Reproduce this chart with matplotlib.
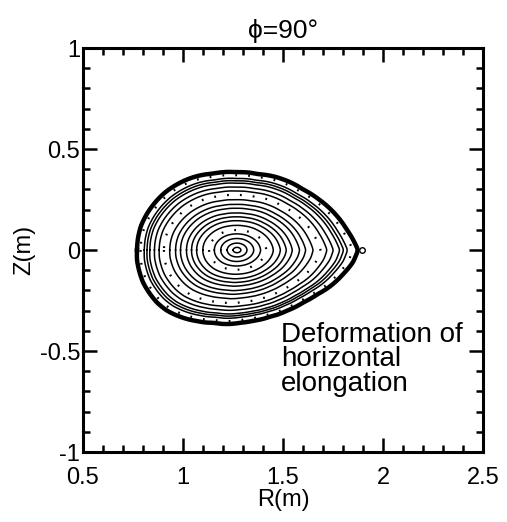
import numpy as np
import matplotlib.pyplot as plt
from matplotlib.ticker import MultipleLocator

plt.rcParams['font.family'] = ['Liberation Sans', 'DejaVu Sans']

# magnetic axis
r_axis = 1.27
z_axis = 0.0

# outermost (thick) surface
# upper half from the inboard side to the X-point, lower half back again
r_upper = [0.77, 0.775, 0.79, 0.82, 0.86, 0.91, 0.97, 1.05, 1.15, 1.27, 1.38, 1.50, 1.60, 1.68, 1.75, 1.82, 1.875]
z_upper = [0.00, 0.06, 0.12, 0.18, 0.235, 0.285, 0.325, 0.36, 0.378, 0.385, 0.375, 0.35, 0.30, 0.25, 0.19, 0.10, 0.00]
r_lower = [1.85, 1.80, 1.735, 1.67, 1.60, 1.52, 1.435, 1.35, 1.285, 1.15, 1.06, 0.985, 0.92, 0.87, 0.83, 0.80, 0.78, 0.77]
z_lower = [-0.06, -0.12, -0.18, -0.22, -0.26, -0.30, -0.33, -0.35, -0.36, -0.36, -0.35, -0.33, -0.30, -0.26, -0.21, -0.16, -0.10, -0.05]

# core ellipse half widths (m)
core_a = 0.55
core_b = 0.38

# normalized radii of the nested surfaces
solid_levels = [0.035, 0.09, 0.15, 0.21, 0.32, 0.38, 0.43, 0.48, 0.54, 0.59, 0.65,
                0.76, 0.81, 0.86, 0.89, 0.92]
dotted_levels = [0.26, 0.71, 0.96]

xticks = [0.5, 1, 1.5, 2, 2.5]
xticklabels = ['0.5', '1', '1.5', '2', '2.5']
yticks = [-1, -0.5, 0, 0.5, 1]
yticklabels = ['-1', '-0.5', '0', '0.5', '1']

rb = np.array(r_upper + r_lower)
zb = np.array(z_upper + z_lower)

# boundary radius as a function of poloidal angle around the axis
th_b = np.arctan2(zb - z_axis, rb - r_axis)
rad_b = np.hypot(rb - r_axis, zb - z_axis)
order = np.argsort(th_b)
theta = np.linspace(-np.pi, np.pi, 721)[:-1]
rad_edge = np.interp(theta, th_b[order], rad_b[order], period=2 * np.pi)
kern = np.ones(5) / 5
rad_edge = np.convolve(np.r_[rad_edge[-2:], rad_edge, rad_edge[:2]], kern, mode='valid')
rad_core = core_a * core_b / np.sqrt((core_b * np.cos(theta)) ** 2 + (core_a * np.sin(theta)) ** 2)


def surface(rho):
    rad = rho * ((1 - rho) * rad_core + rho * rad_edge)
    rr = r_axis + rad * np.cos(theta)
    zz = z_axis + rad * np.sin(theta)
    return np.r_[rr, rr[0]], np.r_[zz, zz[0]]


fig = plt.figure(figsize=(5.07, 5.22), dpi=100)
ax = fig.add_axes([0.1637, 0.134, 0.789, 0.774])

for rho in solid_levels:
    rr, zz = surface(rho)
    ax.plot(rr, zz, color='black', lw=1.1)

for rho in dotted_levels:
    rr, zz = surface(rho)
    ax.plot(rr, zz, color='black', lw=1.6, linestyle=(0, (0.8, 5)))

rr, zz = surface(1.0)
ax.plot(rr, zz, color='black', lw=3.2, solid_joinstyle='round')
ax.plot([1.893], [0.0], marker='o', ms=4, mfc='white', mec='black', mew=1.0)

ax.text(1.49, -0.355, 'Deformation of\nhorizontal\nelongation', fontsize=20,
        ha='left', va='top', linespacing=0.92)

ax.set_xlim(0.5, 2.5)
ax.set_ylim(-1, 1)
ax.set_xticks(xticks)
ax.set_xticklabels(xticklabels)
ax.set_yticks(yticks)
ax.set_yticklabels(yticklabels)
ax.xaxis.set_minor_locator(MultipleLocator(0.1))
ax.yaxis.set_minor_locator(MultipleLocator(0.1))
ax.tick_params(which='both', direction='in', top=True, right=True, width=1.8,
               labelsize=17)
ax.tick_params(which='major', length=10)
ax.tick_params(which='minor', length=5)
ax.tick_params(axis='x', pad=11)
ax.tick_params(axis='y', pad=2)
for s in ax.spines.values():
    s.set_linewidth(2.2)

ax.set_title('ϕ=90°', fontsize=19, pad=7)
ax.set_xlabel('R(m)', fontsize=17, labelpad=0)
ax.set_ylabel('Z(m)', fontsize=17, labelpad=3)

fig.savefig('out.png', dpi=100)
